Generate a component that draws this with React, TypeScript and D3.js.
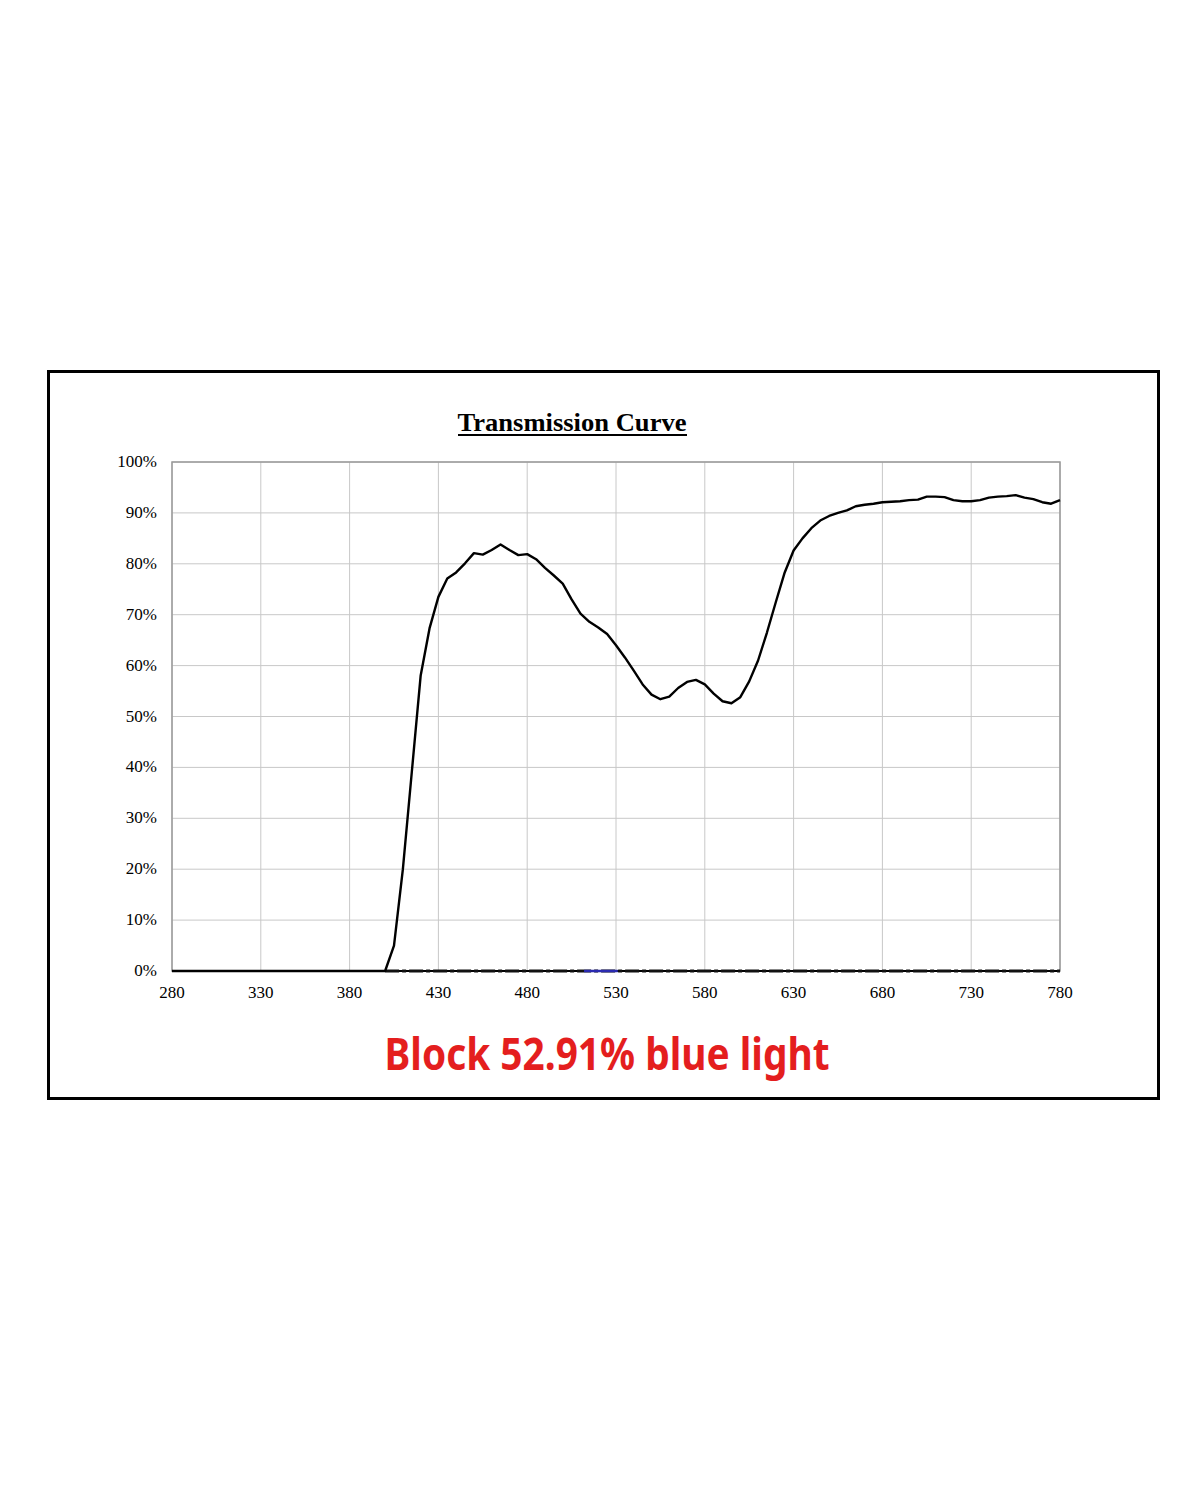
import React from "react";
import * as d3 from "d3";

const wavelengths: number[] = [
  280, 285, 290, 295, 300, 305, 310, 315, 320, 325, 330, 335, 340, 345, 350, 355, 360, 365, 370, 375,
  380, 385, 390, 395, 400, 405, 410, 415, 420, 425, 430, 435, 440, 445, 450, 455, 460, 465, 470, 475,
  480, 485, 490, 495, 500, 505, 510, 515, 520, 525, 530, 535, 540, 545, 550, 555, 560, 565, 570, 575,
  580, 585, 590, 595, 600, 605, 610, 615, 620, 625, 630, 635, 640, 645, 650, 655, 660, 665, 670, 675,
  680, 685, 690, 695, 700, 705, 710, 715, 720, 725, 730, 735, 740, 745, 750, 755, 760, 765, 770, 775, 780,
];

const transmission: number[] = [
  0, 0, 0, 0, 0, 0, 0, 0, 0, 0, 0, 0, 0, 0, 0, 0, 0, 0, 0, 0,
  0, 0, 0, 0, 0, 5, 20, 39, 58, 67.3, 73.5, 77.1, 78.3, 80.1, 82.1, 81.8, 82.7, 83.8, 82.7, 81.7,
  81.9, 80.9, 79.2, 77.7, 76.1, 73.0, 70.2, 68.6, 67.5, 66.2, 64.0, 61.6, 59.0, 56.3, 54.3, 53.4, 53.9, 55.6, 56.8, 57.2,
  56.3, 54.5, 53.0, 52.6, 53.8, 56.9, 61.0, 66.5, 72.5, 78.3, 82.6, 85.0, 87.0, 88.5, 89.4, 90.0, 90.5, 91.3, 91.6, 91.8,
  92.1, 92.2, 92.3, 92.5, 92.6, 93.2, 93.2, 93.1, 92.5, 92.3, 92.3, 92.5, 93.0, 93.2, 93.3, 93.5, 93.0, 92.7, 92.1, 91.8, 92.5,
];

const xTicks: number[] = [280, 330, 380, 430, 480, 530, 580, 630, 680, 730, 780];
const yTicks: number[] = [0, 10, 20, 30, 40, 50, 60, 70, 80, 90, 100];

const baselineRange: number[] = [400, 780];
const blueRange: number[] = [512, 531];

const titleText = "Transmission Curve";
const footerText = "Block 52.91% blue light";

export default function App() {
  const left = 172;
  const right = 1060;
  const top = 462;
  const bottom = 971;

  const x = d3.scaleLinear().domain([280, 780]).range([left, right]);
  const y = d3.scaleLinear().domain([0, 100]).range([bottom, top]);

  const pts: [number, number][] = wavelengths.map((w, i) => [w, transmission[i]]);
  const line = d3
    .line<[number, number]>()
    .x((d) => x(d[0]))
    .y((d) => y(d[1]));

  const serif = "'Liberation Serif', 'Times New Roman', serif";

  return (
    <svg
      width={1200}
      height={1500}
      style={{ position: "absolute", left: 0, top: 0, background: "#fff" }}
    >
      <rect x={0} y={0} width={1200} height={1500} fill="#fff" />
      <rect x={48.5} y={371.5} width={1110} height={727} fill="none" stroke="#000" strokeWidth={3} />

      <text
        x={572}
        y={431}
        textAnchor="middle"
        fontFamily={serif}
        fontWeight="bold"
        fontSize={26}
        fill="#000"
        textLength={229}
        lengthAdjust="spacingAndGlyphs"
      >
        {titleText}
      </text>
      <line x1={458} x2={687} y1={435} y2={435} stroke="#000" strokeWidth={2} />

      {/* grid */}
      {xTicks.map((t) => (
        <line key={"gx" + t} x1={x(t)} x2={x(t)} y1={top} y2={bottom} stroke="#c8c8c8" strokeWidth={1} />
      ))}
      {yTicks.map((t) => (
        <line key={"gy" + t} x1={left} x2={right} y1={y(t)} y2={y(t)} stroke="#c8c8c8" strokeWidth={1} />
      ))}
      <rect x={left} y={top} width={right - left} height={bottom - top} fill="none" stroke="#999" strokeWidth={1.5} />
      <line x1={left} x2={right} y1={bottom} y2={bottom} stroke="#000" strokeWidth={2} />

      {/* y labels */}
      {yTicks.map((t) => (
        <text
          key={"ly" + t}
          x={157}
          y={y(t) + 5}
          textAnchor="end"
          fontFamily={serif}
          fontSize={17}
          fill="#000"
        >
          {t + "%"}
        </text>
      ))}
      {xTicks.map((t) => (
        <text
          key={"lx" + t}
          x={x(t)}
          y={998}
          textAnchor="middle"
          fontFamily={serif}
          fontSize={17}
          fill="#000"
        >
          {t}
        </text>
      ))}

      {/* dashed baseline series */}
      <line
        x1={x(baselineRange[0])}
        x2={x(baselineRange[1])}
        y1={y(0)}
        y2={y(0)}
        stroke="#111"
        strokeWidth={3}
        strokeDasharray="14 3 4 3"
      />
      <line
        x1={x(blueRange[0])}
        x2={x(blueRange[1])}
        y1={y(0)}
        y2={y(0)}
        stroke="#2a2ab0"
        strokeWidth={2.5}
      />

      <path d={line(pts) || ""} fill="none" stroke="#000" strokeWidth={2.4} strokeLinejoin="round" />

      <text
        x={607}
        y={1070}
        textAnchor="middle"
        fontFamily="'Noto Sans', sans-serif"
        fontWeight="bold"
        fontSize={45}
        fill="#e41e1e"
        textLength={445}
        lengthAdjust="spacingAndGlyphs"
      >
        {footerText}
      </text>
    </svg>
  );
}
